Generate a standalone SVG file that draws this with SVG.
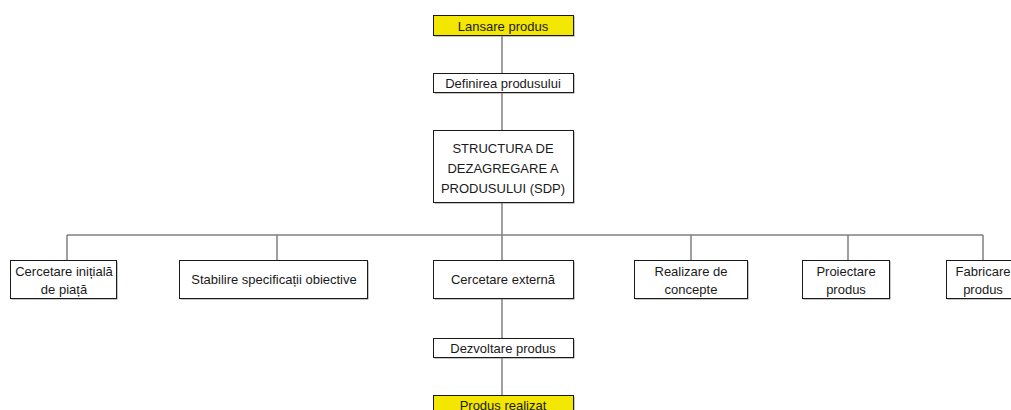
<svg xmlns="http://www.w3.org/2000/svg" width="1011" height="410" viewBox="0 0 1011 410">
<style>
.box{fill:#ffffff;stroke:#1a1a1a;stroke-width:1}
.yel{fill:#f3e600;stroke:#1a1a1a;stroke-width:1}
.sh{fill:#8a8a8a}
.t{font-family:"Liberation Sans",Arial,sans-serif;font-size:13px;fill:#1a1a1a;text-anchor:middle}
.c{stroke:#808080;stroke-width:1.5;fill:none}
</style>
<rect width="1011" height="410" fill="#ffffff"/>
<g id="connectors">
<path class="c" d="M502 35V73M502 92V130M502 202V260M67 235H983M67 235V261M277 235V261M691 235V261M848 235V261M983 235V261M502 299V338M502 357V395"/>
</g>
<g id="n-lansare">
<rect class="sh" x="434.5" y="16.5" width="140" height="20"/>
<rect class="yel" x="433.5" y="15.5" width="140" height="20"/>
<text class="t" x="503" y="30.5">Lansare produs</text>
</g>
<g id="n-definirea">
<rect class="sh" x="434.5" y="74.5" width="140" height="19"/>
<rect class="box" x="433.5" y="73.5" width="140" height="19"/>
<text class="t" x="503" y="87.5">Definirea produsului</text>
</g>
<g id="n-sdp">
<rect class="sh" x="434.5" y="131.5" width="140" height="72"/>
<rect class="box" x="433.5" y="130.5" width="140" height="72"/>
<text class="t" x="503" y="153">STRUCTURA DE</text>
<text class="t" x="503" y="172.5">DEZAGREGARE A</text>
<text class="t" x="503" y="192.5">PRODUSULUI (SDP)</text>
</g>
<g id="n-cercetare-initiala">
<rect class="sh" x="11.5" y="261.5" width="106" height="38"/>
<rect class="box" x="10.5" y="260.5" width="106" height="38"/>
<text class="t" x="64" y="275.5">Cercetare inițială</text>
<text class="t" x="64" y="293.5">de piață</text>
</g>
<g id="n-stabilire">
<rect class="sh" x="180.5" y="261.5" width="188" height="38"/>
<rect class="box" x="179.5" y="260.5" width="188" height="38"/>
<text class="t" x="274" y="284">Stabilire specificații obiective</text>
</g>
<g id="n-cercetare-externa">
<rect class="sh" x="434.5" y="261.5" width="140" height="38"/>
<rect class="box" x="433.5" y="260.5" width="140" height="38"/>
<text class="t" x="503" y="284">Cercetare externă</text>
</g>
<g id="n-realizare">
<rect class="sh" x="635.5" y="261.5" width="113" height="38"/>
<rect class="box" x="634.5" y="260.5" width="113" height="38"/>
<text class="t" x="691" y="275.5">Realizare de</text>
<text class="t" x="691" y="293.5">concepte</text>
</g>
<g id="n-proiectare">
<rect class="sh" x="803.5" y="261.5" width="87" height="38"/>
<rect class="box" x="802.5" y="260.5" width="87" height="38"/>
<text class="t" x="846" y="275.5">Proiectare</text>
<text class="t" x="846" y="293.5">produs</text>
</g>
<g id="n-fabricare">
<rect class="sh" x="947.5" y="261.5" width="74" height="38"/>
<rect class="box" x="946.5" y="260.5" width="74" height="38"/>
<text class="t" x="983" y="275.5">Fabricare</text>
<text class="t" x="983" y="293.5">produs</text>
</g>
<g id="n-dezvoltare">
<rect class="sh" x="434.5" y="339.5" width="140" height="19"/>
<rect class="box" x="433.5" y="338.5" width="140" height="19"/>
<text class="t" x="503" y="352.5">Dezvoltare produs</text>
</g>
<g id="n-produs-realizat">
<rect class="sh" x="434.5" y="396.5" width="140" height="20"/>
<rect class="yel" x="433.5" y="395.5" width="140" height="20"/>
<text class="t" x="503" y="409.5">Produs realizat</text>
</g>
</svg>
